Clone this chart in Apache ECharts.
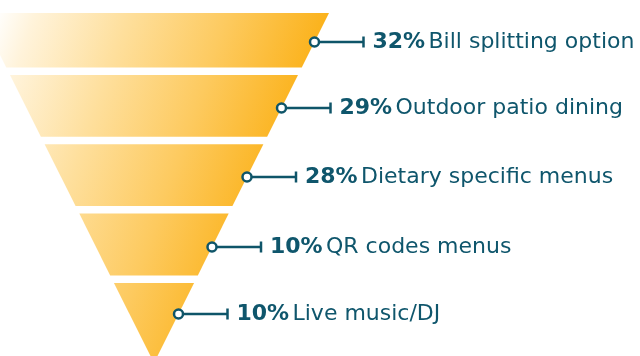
<!DOCTYPE html>
<html><head><meta charset="utf-8">
<script src="https://cdn.jsdelivr.net/npm/echarts@6/dist/echarts.min.js"></script>
<style>html,body{margin:0;padding:0;background:#fff}#c{width:640px;height:356px}</style>
</head><body><div id="c"></div>
<script>
const categories = ['Bill splitting option', 'Outdoor patio dining', 'Dietary specific menus', 'QR codes menus', 'Live music/DJ'];
const values = [32, 29, 28, 10, 10];

const TEXT = '#0f566c';
const LINE = '#0f5569';
const FONT = '"DejaVu Sans", sans-serif';
const TRI = { cx: 154, topY: 13, apexY: 363, slope: 0.5 };
const GAP = 7.5;
const LEAD = 49;

const grad = new echarts.graphic.LinearGradient(0, 0, 298, 104.5, [
  { offset: 0, color: '#ffffff' },
  { offset: 0.12, color: '#fff3da' },
  { offset: 0.4, color: '#fedf9c' },
  { offset: 0.7, color: '#fdca5f' },
  { offset: 1, color: '#fbb21b' }
], true);

const chart = echarts.init(document.getElementById('c'), null, { renderer: 'canvas' });
chart.setOption({
  animation: false,
  grid: { left: 0, right: 0, top: 5.7, bottom: 3.8 },
  xAxis: { type: 'value', min: 0, max: 100, show: false },
  yAxis: { type: 'category', data: categories, inverse: true, show: false },
  series: [{
    type: 'custom',
    clip: false,
    data: values.map((v, i) => [v, i]),
    encode: { x: 0, y: 1 },
    renderItem(params, api) {
      const i = params.dataIndex;
      const n = values.length;
      const c = api.coord([0, i])[1];
      const pitch = api.size([0, 1])[1];
      const top = i === 0 ? TRI.topY : c - pitch / 2;
      const bottomCut = c + pitch / 2 - GAP;
      const bottom = i === n - 1 ? TRI.apexY : bottomCut;
      const hw = y => TRI.slope * (TRI.apexY - y);
      const cx = TRI.cx;
      const pts = [[cx - hw(top), top], [cx + hw(top), top], [cx + hw(bottom), bottom], [cx - hw(bottom), bottom]];
      const ly = Math.round((top + bottomCut) / 2 + 2 - (i === n - 1 ? 1.5 : 0));
      const ex = cx + hw(ly);
      const tx = ex + LEAD;
      return {
        type: 'group',
        children: [
          { type: 'polygon', shape: { points: pts }, style: { fill: grad } },
          { type: 'line', shape: { x1: ex, y1: ly, x2: tx, y2: ly }, style: { stroke: LINE, lineWidth: 2.5 } },
          { type: 'line', shape: { x1: tx, y1: ly - 5.5, x2: tx, y2: ly + 5.5 }, style: { stroke: LINE, lineWidth: 2.5 } },
          { type: 'circle', shape: { cx: ex, cy: ly, r: 4.5 }, style: { fill: '#fff', stroke: LINE, lineWidth: 2.5 } },
          {
            type: 'text',
            style: {
              x: tx + 9, y: ly,
              text: '{b|' + api.value(0) + '%} {n|' + categories[i] + '}',
              verticalAlign: 'middle',
              rich: {
                b: { fontFamily: FONT, fontWeight: 'bold', fontSize: 22, fill: TEXT },
                n: { fontFamily: FONT, fontSize: 22, fill: TEXT }
              }
            }
          }
        ]
      };
    }
  }]
});
</script>
</body></html>
